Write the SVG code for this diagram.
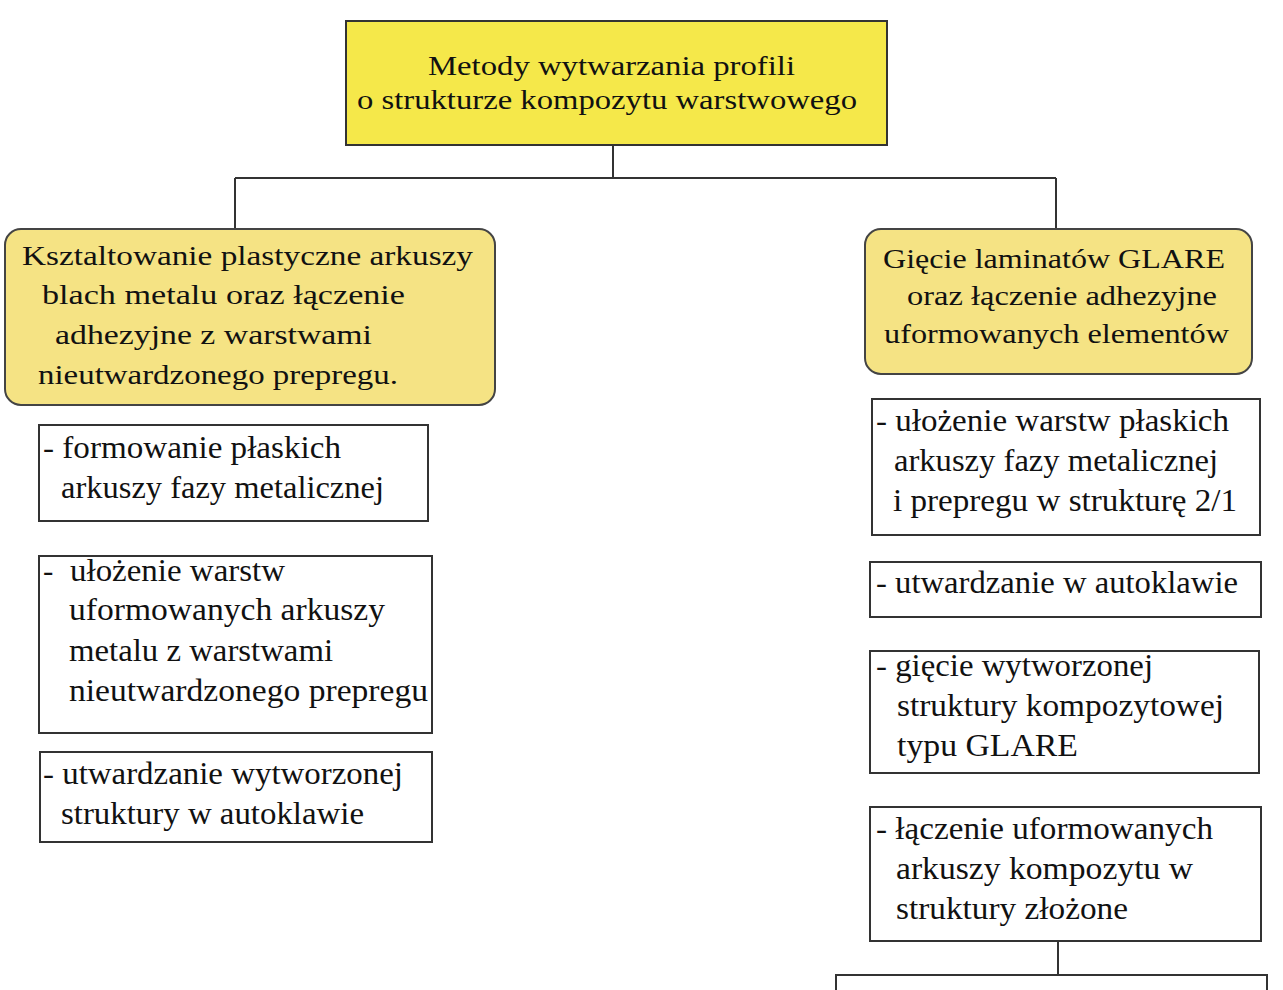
<svg xmlns="http://www.w3.org/2000/svg" width="1283" height="990" viewBox="0 0 1283 990">
<style>
text{font-family:"Liberation Serif","Times New Roman",serif;fill:#111;}
.t{font-size:27px;}
.s{font-size:31px;}
.box{fill:#fff;stroke:#333;stroke-width:2;}
.top{fill:#F5E84A;stroke:#333;stroke-width:2;}
.sub{fill:#F5E384;stroke:#444;stroke-width:2;}
.conn{fill:none;stroke:#333;stroke-width:2;}
</style>
<rect width="1283" height="990" fill="#fff"/>
<g id="connectors">
<path class="conn" d="M613,145 V178 M235,178 H1056 M235,178 V229 M1056,178 V229 M1058,941 V975"/>
</g>
<g id="root">
<rect class="top" x="346" y="21" width="541" height="124"/>
<text class="t" x="428" y="75" textLength="367" lengthAdjust="spacingAndGlyphs">Metody wytwarzania profili</text>
<text class="t" x="357" y="109" textLength="500" lengthAdjust="spacingAndGlyphs">o strukturze kompozytu warstwowego</text>
</g>
<g id="left-main">
<rect class="sub" x="5" y="229" width="490" height="176" rx="16"/>
<text class="t" x="22" y="265" textLength="451" lengthAdjust="spacingAndGlyphs">Ksztaltowanie plastyczne arkuszy</text>
<text class="t" x="42" y="304" textLength="363" lengthAdjust="spacingAndGlyphs">blach metalu oraz łączenie</text>
<text class="t" x="55" y="344" textLength="317" lengthAdjust="spacingAndGlyphs">adhezyjne z warstwami</text>
<text class="t" x="38" y="384" textLength="360" lengthAdjust="spacingAndGlyphs">nieutwardzonego prepregu.</text>
</g>
<g id="right-main">
<rect class="sub" x="865" y="229" width="387" height="145" rx="16"/>
<text class="t" x="883" y="268" textLength="342" lengthAdjust="spacingAndGlyphs">Gięcie laminatów GLARE</text>
<text class="t" x="907" y="305" textLength="310" lengthAdjust="spacingAndGlyphs">oraz łączenie adhezyjne</text>
<text class="t" x="884" y="343" textLength="345" lengthAdjust="spacingAndGlyphs">uformowanych elementów</text>
</g>
<g id="left-step1">
<rect class="box" x="39" y="425" width="389" height="96"/>
<text class="s" x="43" y="458" textLength="298" lengthAdjust="spacingAndGlyphs">- formowanie płaskich</text>
<text class="s" x="61" y="498" textLength="323" lengthAdjust="spacingAndGlyphs">arkuszy fazy metalicznej</text>
</g>
<g id="left-step2">
<rect class="box" x="39" y="556" width="393" height="177"/>
<text class="s" x="43" y="581">-</text>
<text class="s" x="70" y="581" textLength="215" lengthAdjust="spacingAndGlyphs">ułożenie warstw</text>
<text class="s" x="69" y="620" textLength="316" lengthAdjust="spacingAndGlyphs">uformowanych arkuszy</text>
<text class="s" x="69" y="661" textLength="264" lengthAdjust="spacingAndGlyphs">metalu z warstwami</text>
<text class="s" x="69" y="701" textLength="359" lengthAdjust="spacingAndGlyphs">nieutwardzonego prepregu</text>
</g>
<g id="left-step3">
<rect class="box" x="40" y="752" width="392" height="90"/>
<text class="s" x="43" y="784" textLength="360" lengthAdjust="spacingAndGlyphs">- utwardzanie wytworzonej</text>
<text class="s" x="61" y="824" textLength="303" lengthAdjust="spacingAndGlyphs">struktury w autoklawie</text>
</g>
<g id="right-step1">
<rect class="box" x="872" y="399" width="388" height="136"/>
<text class="s" x="876" y="431" textLength="353" lengthAdjust="spacingAndGlyphs">- ułożenie warstw płaskich</text>
<text class="s" x="894" y="471" textLength="324" lengthAdjust="spacingAndGlyphs">arkuszy fazy metalicznej</text>
<text class="s" x="893" y="511" textLength="344" lengthAdjust="spacingAndGlyphs">i prepregu w strukturę 2/1</text>
</g>
<g id="right-step2">
<rect class="box" x="870" y="562" width="391" height="55"/>
<text class="s" x="876" y="593" textLength="362" lengthAdjust="spacingAndGlyphs">- utwardzanie w autoklawie</text>
</g>
<g id="right-step3">
<rect class="box" x="870" y="651" width="389" height="122"/>
<text class="s" x="876" y="676" textLength="277" lengthAdjust="spacingAndGlyphs">- gięcie wytworzonej</text>
<text class="s" x="897" y="716" textLength="327" lengthAdjust="spacingAndGlyphs">struktury kompozytowej</text>
<text class="s" x="897" y="756" textLength="181" lengthAdjust="spacingAndGlyphs">typu GLARE</text>
</g>
<g id="right-step4">
<rect class="box" x="870" y="807" width="391" height="134"/>
<text class="s" x="876" y="839" textLength="337" lengthAdjust="spacingAndGlyphs">- łączenie uformowanych</text>
<text class="s" x="896" y="879" textLength="297" lengthAdjust="spacingAndGlyphs">arkuszy kompozytu w</text>
<text class="s" x="896" y="919" textLength="232" lengthAdjust="spacingAndGlyphs">struktury złożone</text>
</g>
<g id="right-step5">
<rect class="box" x="836" y="975" width="431" height="40"/>
</g>
</svg>
